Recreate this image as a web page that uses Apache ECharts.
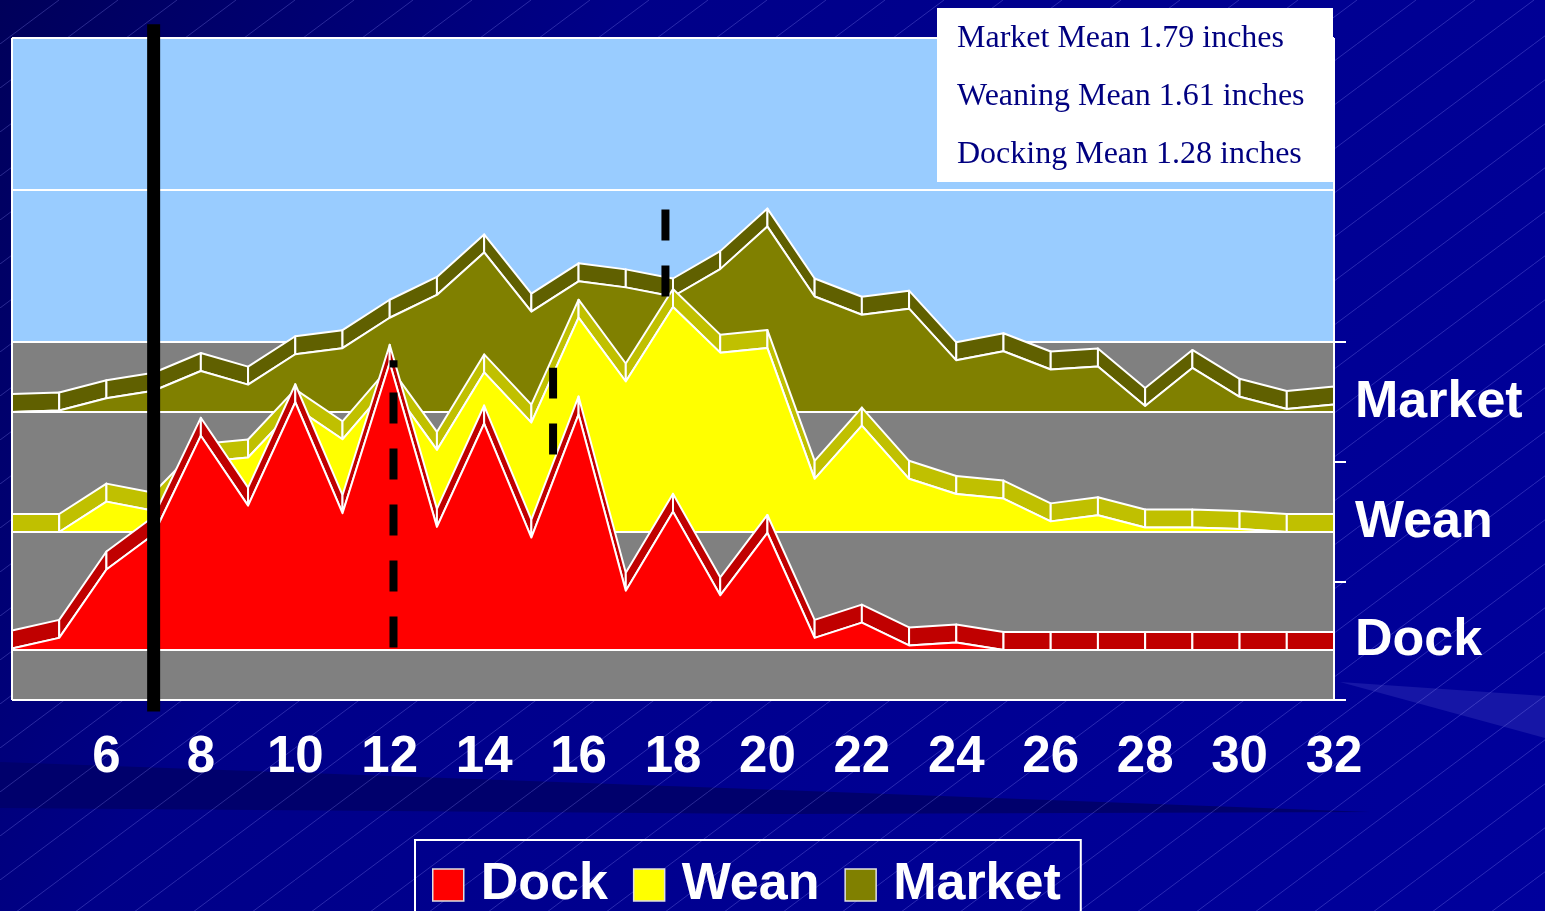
<!DOCTYPE html>
<html>
<head>
<meta charset="utf-8">
<script src="https://cdn.jsdelivr.net/npm/echarts@6/dist/echarts.min.js"></script>
<style>
  html, body { margin: 0; padding: 0; background: #000090; }
  #chart { width: 1545px; height: 911px; }
</style>
</head>
<body>
<div id="chart"></div>
<script>
// tail length (tenths of an inch) and the three groups, back wall units (10 per gridline)
const tailLength = [4, 5, 6, 7, 8, 9, 10, 11, 12, 13, 14, 15, 16, 17, 18, 19, 20, 21, 22, 23, 24, 25, 26, 27, 28, 29, 30, 31, 32];
const dock   = [0.1, 0.8, 5.3, 7.6, 14.1, 9.5, 16.3, 9.0, 18.9, 8.1, 14.9, 7.4, 15.5, 3.9, 9.1, 3.6, 7.7, 0.8, 1.8, 0.3, 0.5, 0, 0, 0, 0, 0, 0, 0, 0];
const wean   = [0, 0, 2.0, 1.4, 4.6, 4.9, 8.2, 6.1, 9.7, 5.4, 10.5, 7.2, 14.1, 9.9, 14.8, 11.8, 12.1, 3.5, 7.0, 3.5, 2.5, 2.2, 0.7, 1.1, 0.3, 0.3, 0.2, 0, 0];
const market = [0, 0.1, 0.9, 1.4, 2.7, 1.8, 3.8, 4.2, 6.2, 7.7, 10.5, 6.6, 8.6, 8.2, 7.6, 9.4, 12.2, 7.6, 6.4, 6.8, 3.4, 4.0, 2.8, 3.0, 0.4, 2.9, 1.0, 0.2, 0.5];
const seriesNames = ['Dock', 'Wean', 'Market'];
const meanNotes = ['Market Mean 1.79 inches', 'Weaning Mean 1.61 inches', 'Docking Mean 1.28 inches'];
// black reference lines: x position and vertical extent on the value scale
const refX    = [7, 12.08, 15.46, 17.84];
const refFrom = [-24.3, -20.1, -7.4, 3.0];
const refTo   = [20.9, -1.2, -1.7, 8.8];

// 3d layout: pixel depth of each ribbon's front edge below the back wall floor line
const FRONT = { Market: 70, Wean: 190, Dock: 308 };
const FLOOR = 358, RIB = 18;
const COLORS = {
  Dock: ['#ff0000', '#c00000'],
  Wean: ['#ffff00', '#c0c000'],
  Market: ['#808000', '#606000']
};
const valuesOf = { Dock: dock, Wean: wean, Market: market };
const FONT = '"Liberation Sans", Arial, sans-serif';

const chart = echarts.init(document.getElementById('chart'));

// background stripes
const tile = document.createElement('canvas');
tile.width = 59; tile.height = 44;
const tc = tile.getContext('2d');
tc.strokeStyle = 'rgba(150,150,255,0.28)';
tc.lineWidth = 1;
tc.beginPath(); tc.moveTo(0, 44); tc.lineTo(59, 0); tc.stroke();

function frameItem(params, api) {
  const xa = tailLength[0], xb = tailLength[tailLength.length - 1];
  const tl = api.coord([xa, 20]), br = api.coord([xb, 0]);
  const x0 = tl[0], x1 = br[0], yTop = tl[1], y0 = br[1];
  const yMid = api.coord([xa, 10])[1];
  const white = { stroke: '#fff', lineWidth: 2 };
  const ch = [
    { type: 'rect', shape: { x: x0, y: yTop, width: x1 - x0, height: y0 - yTop }, style: { fill: '#99ccff' } },
    { type: 'rect', shape: { x: x0, y: y0, width: x1 - x0, height: FLOOR }, style: { fill: '#808080' } }
  ];
  [yTop, yMid, y0].forEach(function (y) {
    ch.push({ type: 'line', shape: { x1: x0, y1: y, x2: x1, y2: y }, style: white });
  });
  ch.push({ type: 'line', shape: { x1: x0, y1: yTop, x2: x0, y2: y0 + FLOOR }, style: white });
  ch.push({ type: 'line', shape: { x1: x1, y1: yTop, x2: x1, y2: y0 + FLOOR }, style: white });
  ch.push({ type: 'line', shape: { x1: x0, y1: y0 + FLOOR, x2: x1 + 12, y2: y0 + FLOOR }, style: white });
  [0, 120, 240, FLOOR].forEach(function (d) {
    ch.push({ type: 'line', shape: { x1: x1, y1: y0 + d, x2: x1 + 12, y2: y0 + d }, style: white });
  });
  seriesNames.forEach(function (name) {
    ch.push({
      type: 'text',
      style: {
        text: name, x: x1 + 21, y: y0 + FRONT[name] - RIB / 2,
        fill: '#fff', font: 'bold 52px ' + FONT, align: 'left', verticalAlign: 'middle'
      }
    });
  });
  return { type: 'group', children: ch };
}

function ribbonItem(name) {
  return function (params, api) {
    if (params.dataIndex !== 0) return;
    const vals = valuesOf[name], off = FRONT[name];
    const pts = tailLength.map(function (x, i) {
      const p = api.coord([x, vals[i]]);
      return [p[0], p[1] + off];
    });
    const base = api.coord([tailLength[0], 0])[1] + off;
    const last = pts[pts.length - 1];
    const edge = { stroke: '#fff', lineWidth: 2, lineJoin: 'round' };
    const ch = [{ type: 'line', shape: { x1: pts[0][0], y1: base, x2: last[0], y2: base }, style: { stroke: '#fff', lineWidth: 2 } }];
    for (let i = 0; i < pts.length - 1; i++) {
      const a = pts[i], b = pts[i + 1];
      ch.push({
        type: 'polygon',
        shape: { points: [a, b, [b[0], b[1] - RIB], [a[0], a[1] - RIB]] },
        style: Object.assign({ fill: COLORS[name][1] }, edge)
      });
    }
    ch.push({
      type: 'polygon',
      shape: { points: [[pts[0][0], base]].concat(pts, [[last[0], base]]) },
      style: Object.assign({ fill: COLORS[name][0] }, edge)
    });
    return { type: 'group', children: ch };
  };
}

function refItem(params, api) {
  const x = api.value(0);
  const p1 = api.coord([x, api.value(1)]);
  const p2 = api.coord([x, api.value(2)]);
  const solid = params.dataIndex === 0;
  return {
    type: 'line',
    shape: { x1: p1[0], y1: p1[1], x2: p2[0], y2: p2[1] },
    style: { stroke: '#000', lineWidth: solid ? 13 : 8, lineDash: solid ? null : [31, 25], lineCap: 'butt' }
  };
}

const ribbonSeries = ['Market', 'Wean', 'Dock'].map(function (name) {
  return {
    name: name,
    type: 'custom',
    silent: true,
    clip: false,
    itemStyle: { color: COLORS[name][0] },
    data: tailLength.map(function (x, i) { return [x, valuesOf[name][i]]; }),
    renderItem: ribbonItem(name)
  };
});

const noteFont = '32px "Liberation Serif", "Times New Roman", serif';

chart.setOption({
  animation: false,
  backgroundColor: '#000090',
  graphic: [
    {
      type: 'rect', z: -3, silent: true,
      shape: { x: 0, y: 0, width: 1545, height: 911 },
      style: {
        fill: new echarts.graphic.LinearGradient(0, 0, 1, 1, [
          { offset: 0, color: '#00005a' },
          { offset: 0.3, color: '#000088' },
          { offset: 1, color: '#00009c' }
        ])
      }
    },
    {
      type: 'polygon', z: -2, silent: true,
      shape: { points: [[0, 762], [780, 790], [1370, 812], [780, 814], [0, 808]] },
      style: { fill: '#00006c' }
    },
    {
      type: 'polygon', z: -2, silent: true,
      shape: { points: [[1340, 682], [1545, 696], [1545, 738]] },
      style: { fill: '#1616a6' }
    },
    {
      type: 'rect', z: -1, silent: true,
      shape: { x: 0, y: 0, width: 1545, height: 911 },
      style: { fill: { image: tile, repeat: 'repeat' } }
    },
    {
      type: 'rect', z: 100, zlevel: 1, silent: true,
      shape: { x: 937, y: 8, width: 396, height: 174 },
      style: { fill: '#fff' }
    }
  ].concat(meanNotes.map(function (t, i) {
    return {
      type: 'text', z: 101, zlevel: 1, silent: true,
      style: { text: t, x: 957, y: 39 + i * 58, fill: '#000080', font: noteFont, verticalAlign: 'middle' }
    };
  })),
  grid: { left: 12, right: 211, top: 38, bottom: 211 },
  xAxis: {
    type: 'value', min: 4, max: 32, interval: 1,
    splitLine: { show: false },
    axisLine: { lineStyle: { color: '#fff', width: 2 } },
    axisTick: { length: 11, lineStyle: { color: '#fff', width: 2 } },
    axisLabel: {
      color: '#fff', fontSize: 51, fontWeight: 'bold', fontFamily: FONT,
      margin: 58, verticalAlign: 'middle',
      formatter: function (v) { return (v % 2 === 0 && v > 4) ? String(v) : ''; }
    }
  },
  yAxis: { type: 'value', min: -23.55, max: 20, show: false },
  legend: {
    left: 415, top: 840, orient: 'horizontal',
    itemWidth: 31, itemHeight: 32, itemGap: 25,
    borderColor: '#fff', borderWidth: 2,
    padding: [19, 20, 40, 17],
    selectedMode: false,
    textStyle: { color: '#fff', fontSize: 52, fontWeight: 'bold', fontFamily: FONT, lineHeight: 40, padding: [0, 0, 0, 12] },
    data: seriesNames.map(function (n) {
      return { name: n, icon: 'rect', itemStyle: { color: COLORS[n][0], borderColor: '#e0e0e0', borderWidth: 1.5 } };
    })
  },
  series: [
    { name: 'frame', type: 'custom', silent: true, clip: false, data: [[4, 0]], renderItem: frameItem }
  ].concat(ribbonSeries, [
    {
      name: 'refs', type: 'custom', silent: true, clip: false,
      encode: { x: 0, y: [1, 2] },
      data: refX.map(function (x, i) { return [x, refFrom[i], refTo[i]]; }),
      renderItem: refItem
    }
  ])
});
</script>
</body>
</html>
